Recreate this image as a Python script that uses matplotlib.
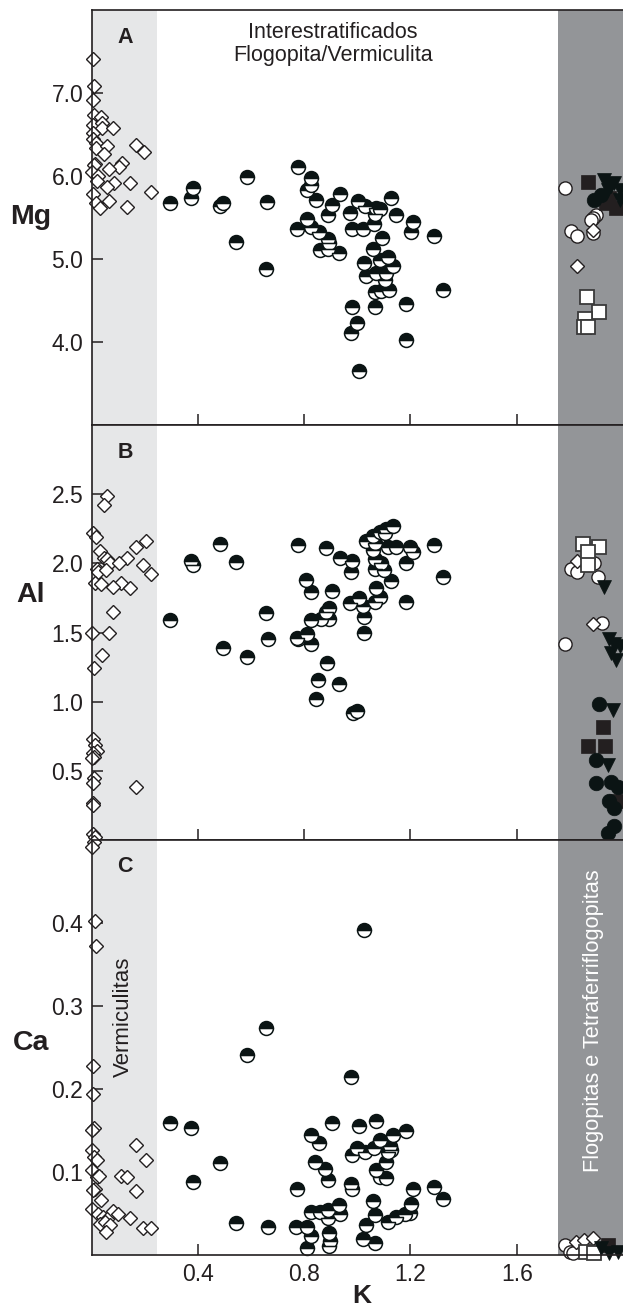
import matplotlib
matplotlib.use("Agg")
import matplotlib.pyplot as plt
from matplotlib.ticker import FormatStrFormatter

plt.rcParams['font.family'] = ['Liberation Sans', 'DejaVu Sans']

INK = '#231f20'
HALF = '#0b1414'

# K values shared by panels are read per point; (K, value) pairs
# ---- Panel A: Mg ----
verm_mg = [(0.004, 7.41), (0.010, 7.09), (0.004, 6.91), (0.010, 6.74), (0.034, 6.71), (0.004, 6.62),
           (0.038, 6.64), (0.038, 6.58), (0.082, 6.58), (0.004, 6.52), (0.004, 6.44), (0.017, 6.40),
           (0.017, 6.34), (0.059, 6.36), (0.047, 6.26), (0.167, 6.37), (0.197, 6.29), (0.013, 6.15),
           (0.010, 6.13), (0.113, 6.16), (0.104, 6.11), (0.065, 6.08), (0.000, 6.05), (0.025, 6.00),
           (0.019, 5.94), (0.084, 5.92), (0.144, 5.92), (0.057, 5.87), (0.223, 5.81), (0.006, 5.78),
           (0.017, 5.68), (0.067, 5.70), (0.032, 5.61), (0.132, 5.63)]
inter_mg = [(0.295, 5.68), (0.373, 5.73), (0.382, 5.85), (0.483, 5.64), (0.495, 5.67), (0.583, 5.99),
            (0.542, 5.20), (0.662, 5.69), (0.658, 4.88), (0.777, 6.11), (0.825, 5.97), (0.809, 5.83),
            (0.827, 5.89), (0.844, 5.71), (0.934, 5.78), (0.903, 5.65), (0.888, 5.53), (1.003, 5.70),
            (1.028, 5.64), (1.072, 5.61), (1.084, 5.60), (0.974, 5.55), (1.065, 5.54), (1.126, 5.74),
            (1.144, 5.53), (1.209, 5.44), (1.203, 5.33), (1.287, 5.28), (0.809, 5.48), (0.773, 5.36),
            (0.827, 5.39), (0.856, 5.32), (0.890, 5.24), (0.894, 5.19), (0.861, 5.11), (0.890, 5.12),
            (0.931, 5.07), (0.981, 5.36), (1.022, 5.36), (1.062, 5.42), (1.094, 5.25), (1.059, 5.12),
            (1.084, 4.99), (1.116, 5.03), (1.025, 4.95), (1.032, 4.79), (1.072, 4.83), (1.107, 4.83),
            (1.134, 4.91), (1.103, 4.75), (1.065, 4.60), (1.091, 4.62), (1.119, 4.63), (1.322, 4.63),
            (0.981, 4.42), (1.065, 4.42), (1.182, 4.46), (0.999, 4.23), (0.975, 4.11), (1.185, 4.02),
            (1.005, 3.65)]
flog_mg = {
    'open_circle': [(1.780, 5.86), (1.899, 5.53), (1.886, 5.49), (1.880, 5.47), (1.805, 5.34),
                    (1.826, 5.28), (1.886, 5.31)],
    'open_diamond': [(1.886, 5.35), (1.826, 4.91)],
    'open_square': [(1.865, 4.54), (1.909, 4.36), (1.858, 4.28), (1.852, 4.18), (1.867, 4.18)],
    'dark_square': [(1.867, 5.93), (1.937, 5.67), (1.974, 5.61), (1.949, 5.73)],
    'black_triangle': [(1.930, 5.95), (1.968, 5.91), (1.987, 5.83), (1.943, 5.83), (1.987, 5.71),
                       (1.955, 5.88)],
    'black_circle': [(1.892, 5.71), (1.918, 5.77)],
}

# ---- Panel B: Al ----
verm_al = [(0.059, 2.49), (0.048, 2.42), (0.006, 2.22), (0.017, 2.19), (0.032, 2.09), (0.205, 2.16),
           (0.166, 2.12), (0.048, 2.04), (0.057, 2.03), (0.132, 2.04), (0.069, 2.00), (0.104, 2.00),
           (0.194, 1.99), (0.019, 1.96), (0.025, 1.94), (0.054, 1.95), (0.222, 1.92), (0.013, 1.86),
           (0.035, 1.85), (0.111, 1.86), (0.082, 1.83), (0.144, 1.82), (0.082, 1.65), (0.003, 1.50),
           (0.065, 1.50), (0.040, 1.34), (0.010, 1.24), (0.004, 0.73), (0.013, 0.69), (0.019, 0.64),
           (0.004, 0.63), (0.009, 0.60), (0.000, 0.59), (0.010, 0.45), (0.004, 0.41), (0.167, 0.38),
           (0.006, 0.27), (0.004, 0.25), (0.004, 0.04), (0.013, 0.02)]
inter_al = [(0.295, 1.59), (0.373, 2.02), (0.382, 1.99), (0.483, 2.14), (0.495, 1.39), (0.542, 2.01),
            (0.583, 1.32), (0.658, 1.64), (0.664, 1.45), (0.775, 2.13), (0.775, 1.45), (0.884, 2.11),
            (0.934, 2.04), (0.981, 2.02), (0.975, 1.94), (1.032, 2.16), (1.059, 2.20), (1.084, 2.23),
            (1.109, 2.25), (1.134, 2.27), (1.103, 2.22), (1.065, 2.15), (1.059, 2.10), (1.116, 2.12),
            (1.147, 2.12), (1.200, 2.12), (1.209, 2.08), (1.287, 2.13), (1.065, 2.03), (1.091, 2.00),
            (1.065, 1.96), (1.099, 1.95), (1.182, 2.00), (1.322, 1.90), (1.128, 1.87), (0.806, 1.88),
            (0.825, 1.79), (0.903, 1.80), (1.072, 1.82), (1.084, 1.76), (1.065, 1.72), (1.182, 1.72),
            (1.005, 1.75), (0.974, 1.71), (1.022, 1.69), (1.024, 1.61), (0.894, 1.68), (0.884, 1.65),
            (0.894, 1.60), (0.865, 1.60), (0.825, 1.59), (0.809, 1.49), (0.773, 1.46), (0.825, 1.42),
            (1.025, 1.50), (0.886, 1.28), (0.852, 1.16), (0.931, 1.13), (0.843, 1.02), (0.984, 0.92),
            (0.999, 0.93)]
flog_al = {
    'open_circle': [(1.805, 1.96), (1.826, 1.94), (1.892, 2.00), (1.905, 1.90), (1.921, 1.57),
                    (1.780, 1.42)],
    'open_diamond': [(1.826, 2.02), (1.886, 1.56)],
    'open_square': [(1.849, 2.14), (1.911, 2.12), (1.867, 2.08), (1.867, 1.99)],
    'dark_square': [(1.924, 0.82), (1.867, 0.68), (1.933, 0.68), (1.974, 0.28)],
    'black_triangle': [(1.930, 1.83), (1.949, 1.45), (1.968, 1.42), (1.955, 1.35), (1.974, 1.30),
                       (1.987, 1.40), (1.961, 0.94), (1.943, 0.54)],
    'black_circle': [(1.909, 0.98), (1.899, 0.58), (1.899, 0.41), (1.955, 0.42), (1.980, 0.38),
                     (1.949, 0.28), (1.968, 0.23), (1.968, 0.10), (1.943, 0.05)],
}

# ---- Panel C: Ca ----
verm_ca = [(0.010, 0.498), (0.000, 0.491), (0.013, 0.403), (0.017, 0.372), (0.006, 0.228),
           (0.006, 0.194), (0.010, 0.153), (0.003, 0.151), (0.166, 0.133), (0.205, 0.114),
           (0.003, 0.127), (0.010, 0.118), (0.019, 0.114), (0.003, 0.102), (0.019, 0.094),
           (0.028, 0.095), (0.111, 0.095), (0.132, 0.094), (0.013, 0.080), (0.006, 0.078),
           (0.166, 0.077), (0.035, 0.066), (0.003, 0.056), (0.025, 0.050), (0.044, 0.046),
           (0.063, 0.044), (0.082, 0.053), (0.100, 0.050), (0.144, 0.044), (0.032, 0.037),
           (0.050, 0.040), (0.069, 0.036), (0.053, 0.028), (0.194, 0.032), (0.222, 0.033)]
inter_ca = [(0.295, 0.159), (0.373, 0.153), (0.382, 0.088), (0.483, 0.111), (0.542, 0.038),
            (0.583, 0.241), (0.658, 0.273), (0.664, 0.034), (1.025, 0.392), (0.975, 0.214),
            (0.903, 0.159), (1.005, 0.155), (1.072, 0.162), (1.182, 0.149), (0.827, 0.145),
            (0.856, 0.135), (1.134, 0.145), (1.084, 0.139), (1.122, 0.131), (1.128, 0.127),
            (1.116, 0.124), (0.999, 0.129), (0.981, 0.120), (1.028, 0.124), (1.062, 0.129),
            (0.840, 0.112), (0.877, 0.104), (0.888, 0.090), (1.107, 0.112), (1.072, 0.103),
            (1.084, 0.094), (1.107, 0.093), (0.978, 0.086), (0.981, 0.079), (0.773, 0.079),
            (1.209, 0.080), (1.288, 0.082), (1.322, 0.067), (1.059, 0.065), (1.065, 0.048),
            (1.203, 0.061), (1.200, 0.051), (1.178, 0.050), (1.147, 0.046), (1.116, 0.040),
            (1.032, 0.036), (0.827, 0.052), (0.859, 0.052), (0.890, 0.054), (0.931, 0.060),
            (0.934, 0.050), (0.890, 0.045), (0.771, 0.034), (0.809, 0.034), (0.825, 0.023),
            (0.894, 0.026), (0.896, 0.017), (0.894, 0.011), (0.809, 0.008), (1.022, 0.019),
            (1.065, 0.015)]
flog_ca = {
    'open_circle': [(1.780, 0.012), (1.800, 0.004), (1.810, 0.002)],
    'open_diamond': [(1.824, 0.016), (1.855, 0.018), (1.886, 0.020)],
    'open_square': [(1.861, 0.004), (1.892, 0.002)],
    'dark_square': [(1.943, 0.012)],
    'black_triangle': [(1.918, 0.008), (1.949, 0.002), (1.980, 0.004)],
    'black_circle': [],
}

panels = [
    ('A', 'Mg', verm_mg, inter_mg, flog_mg, (3.0, 8.0), [4.0, 5.0, 6.0, 7.0], '%.1f'),
    ('B', 'Al', verm_al, inter_al, flog_al, (0.0, 3.0), [0.5, 1.0, 1.5, 2.0, 2.5], '%.1f'),
    ('C', 'Ca', verm_ca, inter_ca, flog_ca, (0.0, 0.5), [0.1, 0.2, 0.3, 0.4], '%.1f'),
]
k_ticks = [0.4, 0.8, 1.2, 1.6]

flog_style = {
    'open_circle': dict(marker='o', ms=9.5, mfc='white', mec=INK, mew=1.0),
    'open_diamond': dict(marker='D', ms=7, mfc='white', mec=INK, mew=1.0),
    'open_square': dict(marker='s', ms=9.5, mfc='white', mec='#3a3a3a', mew=1.3),
    'dark_square': dict(marker='s', ms=9.5, mfc=INK, mec=INK, mew=0.5),
    'black_triangle': dict(marker='v', ms=10.5, mfc=HALF, mec=HALF, mew=0.5),
    'black_circle': dict(marker='o', ms=10.5, mfc=HALF, mec=HALF, mew=0.5),
}

W, H = 623, 1310
fig = plt.figure(figsize=(W / 100, H / 100), dpi=100)
left = 91.6 / W
tops = [10, 425, 840]
height = 415 / H

axes = []
for i, (letter, name, verm, inter, flog, ylim, yt, fmt) in enumerate(panels):
    bottom = 1 - (tops[i] + 415) / H
    ax = fig.add_axes([left, bottom, 1 - left, height])
    ax.set_xlim(0, 2.0)
    ax.set_ylim(*ylim)
    ax.axvspan(0, 0.245, color='#e6e7e8', zorder=0, lw=0)
    ax.axvspan(1.757, 2.0, color='#939598', zorder=0, lw=0)

    ax.plot([p[0] for p in verm], [p[1] for p in verm], ls='none', marker='D', ms=7,
            mfc='white', mec=INK, mew=1.0, clip_on=False, zorder=3)
    ax.plot([p[0] for p in inter], [p[1] for p in inter], ls='none', marker='o', ms=10,
            fillstyle='top', mfc=HALF, mfcalt='white', mec=HALF, mew=1.1,
            clip_on=False, zorder=3)
    for key, pts in flog.items():
        if pts:
            ax.plot([p[0] for p in pts], [p[1] for p in pts], ls='none', clip_on=False,
                    zorder=3, **flog_style[key])

    ax.set_yticks(yt)
    ax.yaxis.set_major_formatter(FormatStrFormatter(fmt))
    ax.set_xticks(k_ticks)
    ax.tick_params(direction='in', length=8, width=1.1, color=INK, labelsize=16.5,
                   labelcolor=INK, pad=6)
    if i < 2:
        ax.tick_params(axis='x', labelbottom=False)
    else:
        ax.set_xticklabels(['0.4', '0.8', '1.2', '1.6'])
    for s in ['left', 'top', 'bottom']:
        ax.spines[s].set_color(INK)
        ax.spines[s].set_linewidth(1.2)
        ax.spines[s].set_zorder(4)
    ax.spines['right'].set_visible(False)

    ypix = [217, 595, 1043][i]
    fig.text(31 / W, 1 - ypix / H, name, fontsize=20.5, fontweight='bold', color=INK,
             ha='center', va='center')
    ax.text(0.126, ylim[1] - (ylim[1] - ylim[0]) * 27 / 415, letter, fontsize=15.5,
            fontweight='bold', color=INK, ha='center', va='center')
    axes.append(ax)

axes[0].text(0.907, 7.86, 'Interestratificados\nFlogopita/Vermiculita', fontsize=15.5,
             color=INK, ha='center', va='top', linespacing=1.15)
axes[2].text(0.12, 0.287, 'Vermiculitas', fontsize=16, color=INK, rotation=90,
             ha='center', va='center')
axes[2].text(1.889, 0.282, 'Flogopitas e Tetraferriflogopitas', fontsize=15.7, color='white',
             rotation=90, ha='center', va='center')
fig.text(362 / W, 1 - 1303 / H, 'K', fontsize=19, fontweight='bold', color=INK,
         ha='center', va='baseline')

fig.savefig('out.png', dpi=100)
